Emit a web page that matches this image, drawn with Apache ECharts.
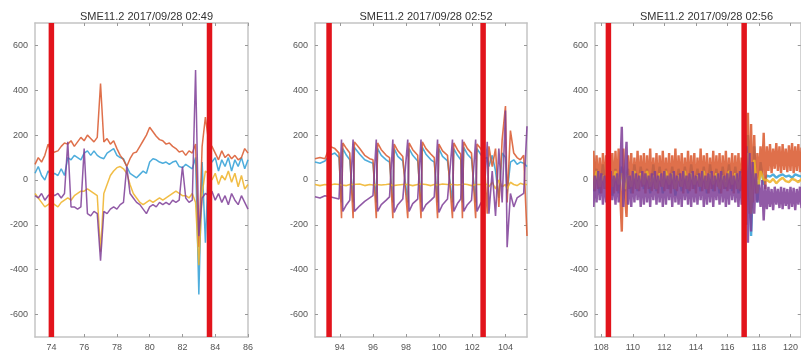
<!DOCTYPE html>
<html>
<head>
<meta charset="utf-8">
<script src="https://cdn.jsdelivr.net/npm/echarts@6.0.0/dist/echarts.min.js"></script>
<style>
    html, body { margin: 0; padding: 0; background: #fff; }
    #chart { width: 801px; height: 356px; }
</style>
</head>
<body>
<div id="chart"></div>
<script>
// titles and shared y axis
const titles = ['SME11.2 2017/09/28 02:49', 'SME11.2 2017/09/28 02:52', 'SME11.2 2017/09/28 02:56'];
const y_range = [-700, 700];
const y_ticks = [-600, -400, -200, 0, 200, 400, 600];

// panel 1 (samples every 0.2 from 73)
const x_range_1 = [73, 86];
const x_ticks_1 = [74, 76, 78, 80, 82, 84, 86];
const red_lines_1 = [74.0, 83.65];
const t_start_1 = 73, t_step_1 = 0.2;
const blue_1 = [30, 60, 20, 0, 40, 20, 30, 20, 50, 20,
    100, 90, 110, 100, 90, 120, 130, 110, 130, 110,
    100, 95, 120, 130, 140, 110, 100, 95, 60, 30,
    20, 10, 25, 40, 30, 80, 95, 90, 80, 75,
    80, 70, 80, 85, 60, 55, 70, 60, 50, 100,
    -510, 80, -280, 90, 80, 100, 40, 90, 60, 100,
    40, 90, 60, 100, 50, 90];
const orange_1 = [70, 100, 80, 110, 160, 120, 125, 130, 150, 165,
    160, 175, 150, 170, 190, 175, 200, 185, 170, 190,
    430, 170, 185, 160, 175, 140, 110, 90, 60, 95,
    120, 125, 150, 175, 200, 235, 215, 195, 180, 175,
    160, 165, 150, 140, 125, 130, 110, 130, 120, 160,
    -300, 150, 280, 170, 150, 120, 90, 130, 100, 115,
    95, 110, 90, 100, 140, 120];
const yellow_1 = [-60, -80, -100, -120, -110, -100, -110, -120, -100, -90,
    -80, -90, -70, -60, -50, -50, -40, -50, -60, -70,
    -320, -60, -20, 20, 40, 55, 60, 50, 30, -20,
    -60, -80, -100, -110, -100, -90, -100, -90, -80, -90,
    -80, -70, -60, -50, -60, -70, -70, -80, -60, -100,
    -380, -60, 40, 30, 0, 30, -20, 20, 0, 40,
    -10, 30, -30, 20, -40, -20];
const purple_1 = [-70, -80, -60, -90, -70, -60, -70, -60, -80, -60,
    170, -120, -120, -130, -120, 140, -150, -160, -140, -150,
    -360, -140, -150, -130, -120, -130, -110, -100, 60, -60,
    -80, -100, -110, -130, -150, -120, -110, -120, -100, -110,
    -100, -110, -90, -100, -90, 60, -80, -100, -90, 490,
    -250, -80, -60, -70, -50, -90, -60, -100, -70, -110,
    -60, -90, -110, -70, -100, -130];

// panel 2 (irregular sample times)
const x_range_2 = [92.5, 105.3];
const x_ticks_2 = [94, 96, 98, 100, 102, 104];
const red_lines_2 = [93.35, 102.65];
const t_2 = [92.5, 92.8, 93.1, 93.4, 93.7, 93.95,
    94.1, 94.18, 94.4, 94.6,
    94.8, 94.88, 95.2, 95.5, 95.8, 96.0,
    96.2, 96.28, 96.5, 96.8, 97.0,
    97.2, 97.28, 97.5, 97.8,
    98.1, 98.18, 98.4, 98.7,
    98.9, 98.98, 99.2, 99.5, 99.7,
    99.9, 99.98, 100.2, 100.5,
    100.8, 100.88, 101.1, 101.3,
    101.4, 101.48, 101.7, 101.95,
    102.2, 102.28, 102.5, 102.7,
    102.9, 103.0, 103.2, 103.4, 103.6, 103.8, 104.0, 104.1, 104.3, 104.5, 104.7, 104.9, 105.1, 105.3];
const blue_2 = [80, 75, 85, 110, 120, 100,
    -100, 140, 110, 90,
    -100, 145, 115, 90, 80, 75,
    -100, 140, 110, 90, 80,
    -100, 140, 105, 85,
    -100, 140, 110, 85,
    -100, 145, 115, 90, 80,
    -100, 140, 105, 85,
    -100, 140, 110, 90,
    -100, 145, 115, 95,
    -100, 140, 115, 95,
    100, 60, 110, 40, -80, 120, 100, -60, 80, 90, 70, 80, 75, 60];
const orange_2 = [95, 100, 95, 150, 140, 120,
    -170, 165, 140, 120,
    -170, 170, 140, 110, 95, 90,
    -170, 165, 135, 110, 100,
    -170, 160, 130, 105,
    -170, 165, 135, 110,
    -170, 170, 140, 115, 100,
    -170, 160, 130, 110,
    -170, 165, 135, 115,
    -170, 170, 140, 120,
    -170, 160, 140, 120,
    -150, 150, 60, 140, -120, 180, 330, -100, 220, 120, 100, 90, 110, -250];
const yellow_2 = [-20, -25, -20, -22, -18, -20,
    -22, -20, -25, -20,
    -20, -22, -18, -25, -20, -22,
    -20, -25, -22, -20, -18,
    -25, -20, -22, -20,
    -20, -22, -25, -20,
    -18, -22, -20, -25, -20,
    -22, -20, -18, -20,
    -20, -25, -22, -20,
    -22, -18, -20, -25,
    -20, -22, -20, -18,
    -20, -30, -10, -40, 0, -30, -20, -40, -10, -20, -25, -15, -20, -20];
const purple_2 = [-75, -80, -70, -75, -80, -85,
    180, -140, -110, -90,
    180, -140, -115, -95, -80, -70,
    180, -140, -110, -90, -75,
    180, -145, -110, -85,
    180, -140, -105, -85,
    180, -140, -110, -90, -75,
    180, -145, -110, -85,
    180, -140, -105, -85,
    180, -140, -110, -90,
    180, -140, -105, -85,
    170, -150, 40, -160, 140, -100, 310, -300, -60, -120, -80, -70, -60, 240];

// panel 3 (orange/purple every 0.1, blue/yellow every 0.2, both from 107.3)
const x_range_3 = [107.6, 120.65];
const x_ticks_3 = [108, 110, 112, 114, 116, 118, 120];
const red_lines_3 = [108.45, 117.06];
const t_start_3 = 107.3, t_step_fine_3 = 0.1, t_step_coarse_3 = 0.2;
const orange_3 = [120, -30, 130, -50, 110, -40, 100,
    -60, 120, -40, 110, -50, 100, -30, 120, -60, 130, -50, 140, -60,
    -230, 140, -60, -165,
    110, -40, 120, -60, 100, -40, 130, -50, 110,
    -30, 120, -60, 110, -40, 140, -50, 100, -40, 120,
    -60, 110, -30, 130, -50, 100, -40, 120, -60, 110,
    -40, 140, -50, 110, -30, 120, -60, 100, -40, 130,
    -50, 110, -40, 120, -60, 100, -30, 140, -50, 110,
    -40, 120, -60, 100, -40, 130, -50, 110, -30, 120,
    -60, 110, -40, 130, -50, 100, -40, 120, -60, 110,
    -40, 120, -50, 100,
    -80, 180, -200, 300, -150, 250, -100, 200, -60, 120, 0, 150, 20, 210, -40,
    150, 40, 160, 30, 140, 50, 165, 40, 150, 30, 160, 45, 140, 35, 155, 40, 165, 30, 150, 40, 160, 35, 145, 40, 150, 30];
const purple_3 = [-110, 30, -120, 20, -100, 40, -90,
    30, -110, 20, -100, 30, -120, 40, -90, 20, -110, 30, -100, 40,
    237, -120, 40, 170,
    -110, 20, -120, 40, -100, 30, -90, 20, -120,
    40, -110, 30, -100, 20, -120, 30, -90, 40, -110,
    20, -100, 30, -120, 40, -110, 20, -90, 30, -120,
    40, -100, 20, -110, 30, -120, 40, -90, 20, -110,
    30, -120, 40, -100, 20, -110, 30, -90, 40, -120,
    20, -110, 30, -100, 40, -120, 20, -90, 30, -110,
    40, -100, 20, -120, 30, -110, 40, -90, 20, -100,
    30, -120, 40, -110,
    60, -180, 150, -280, 120, -230, 80, -150, 30, -100, -20, -120, 0, -180, -20,
    -130, -30, -120, -40, -134, -30, -110, -40, -125, -30, -130, -35, -115, -40, -130, -30, -120, -35, -134, -40, -110, -30, -125, -40, -130, -30];
const blue_3 = [60, -50, 50, -60, 70, -40, 60, -70, 50, -60,
    60, -50, 50, -60, 70, -50, 60, -40, 50, -60,
    70, -50, 60, -60, 50, -40, 60, -70, 50, -50,
    60, -60, 70, -40, 50, -50, 60, -60, 70, -50,
    50, -60, 60, -40, 70, -50, 60, -60, 50,
    -150, 200, -250, 150, -100, 80, -20,
    20, 15, 25, 10, 20, 25, 15, 20, 10, 25, 20, 15, 20, 25];
const yellow_3 = [30, -40, 40, -30, 20, -40, 30, -30, 40, -20,
    30, -40, 20, -30, 40, -40, 30, -20, 40, -30,
    20, -40, 30, -30, 40, -20, 30, -40, 20, -30,
    40, -40, 30, -20, 20, -30, 40, -40, 30, -20,
    30, -40, 20, -30, 40, -20, 30, -40, 30,
    -100, 120, -150, 90, -60, 40, 0,
    0, -10, 5, -15, 0, 10, -5, -10, 5, 0, -10, 5, -5, 0];

const colors = {blue: '#2f9fd6', orange: '#d9572c', yellow: '#eeb226', purple: '#7e3d97', red: '#e2141c'};

let make_times = function (start, step, n) {
    let times = [];
    for (let i = 0; i < n; i++) {
        times.push(+(start + i * step).toFixed(3));
    }
    return times;
};

let zip = function (xs, ys) {
    return ys.map(function (y, i) {
        return [xs[i], y];
    });
};

// plot boxes
const grids = [
    {left: 35, top: 23, width: 213, height: 314},
    {left: 315, top: 23, width: 212, height: 314},
    {left: 595, top: 23, width: 213, height: 314}
];

let make_x_axis = function (grid_index, range, ticks, position) {
    let bottom = position === 'bottom';
    return {
        type: 'value', gridIndex: grid_index, position: position,
        min: range[0], max: range[1],
        axisLine: {show: true, onZero: false, lineStyle: {color: '#c4c4c4', width: 1.5}},
        axisTick: {show: true, inside: true, length: 3, customValues: ticks, lineStyle: {color: '#999'}},
        axisLabel: {show: bottom, customValues: ticks, fontSize: 9, color: '#555', margin: 6, fontFamily: 'Liberation Sans'},
        splitLine: {show: false}
    };
};

let make_y_axis = function (grid_index, position) {
    let left = position === 'left';
    return {
        type: 'value', gridIndex: grid_index, position: position,
        min: y_range[0], max: y_range[1],
        axisLine: {show: true, onZero: false, lineStyle: {color: '#c4c4c4', width: 1.5}},
        axisTick: {show: true, inside: true, length: 3, customValues: y_ticks, lineStyle: {color: '#999'}},
        axisLabel: {show: left, customValues: y_ticks, fontSize: 9, color: '#555', margin: 7, fontFamily: 'Liberation Sans'},
        splitLine: {show: false}
    };
};

let line_series = function (panel, data, color, width) {
    return {
        type: 'line', xAxisIndex: panel * 2, yAxisIndex: panel * 2,
        data: data, showSymbol: false, symbol: 'none', animation: false,
        lineStyle: {color: color, width: width, opacity: 0.85},
        itemStyle: {color: color}, silent: true, clip: true
    };
};

let red_series = function (panel, x) {
    return {
        type: 'line', xAxisIndex: panel * 2, yAxisIndex: panel * 2, z: 10,
        data: [[x, y_range[0]], [x, y_range[1]]], showSymbol: false, symbol: 'none', animation: false,
        lineStyle: {color: colors.red, width: 5.5}, silent: true
    };
};

let t_1 = make_times(t_start_1, t_step_1, blue_1.length);
let t_fine_3 = make_times(t_start_3, t_step_fine_3, orange_3.length);
let t_coarse_3 = make_times(t_start_3, t_step_coarse_3, blue_3.length);

let panels = [
    {x_range: x_range_1, x_ticks: x_ticks_1, red: red_lines_1, width: 1.5,
        lines: [[zip(t_1, blue_1), colors.blue], [zip(t_1, orange_1), colors.orange],
            [zip(t_1, yellow_1), colors.yellow], [zip(t_1, purple_1), colors.purple]]},
    {x_range: x_range_2, x_ticks: x_ticks_2, red: red_lines_2, width: 1.6,
        lines: [[zip(t_2, blue_2), colors.blue], [zip(t_2, orange_2), colors.orange],
            [zip(t_2, yellow_2), colors.yellow], [zip(t_2, purple_2), colors.purple]]},
    {x_range: x_range_3, x_ticks: x_ticks_3, red: red_lines_3, width: 2.4,
        lines: [[zip(t_coarse_3, blue_3), colors.blue], [zip(t_fine_3, orange_3), colors.orange],
            [zip(t_coarse_3, yellow_3), colors.yellow], [zip(t_fine_3, purple_3), colors.purple]]}
];

let x_axes = [], y_axes = [], series = [], title = [];
panels.forEach(function (p, i) {
    x_axes.push(make_x_axis(i, p.x_range, p.x_ticks, 'bottom'));
    x_axes.push(make_x_axis(i, p.x_range, p.x_ticks, 'top'));
    y_axes.push(make_y_axis(i, 'left'));
    y_axes.push(make_y_axis(i, 'right'));
    p.lines.forEach(function (l) {
        series.push(line_series(i, l[0], l[1], p.width));
    });
    p.red.forEach(function (x) {
        series.push(red_series(i, x));
    });
    title.push({
        text: titles[i], left: grids[i].left + grids[i].width / 2, top: 6, textAlign: 'center',
        textStyle: {fontSize: 11, fontWeight: 'normal', color: '#333', fontFamily: 'Liberation Sans'}
    });
});

let chart = echarts.init(document.getElementById('chart'), null, {renderer: 'canvas'});
chart.setOption({
    backgroundColor: '#fff',
    animation: false,
    title: title,
    grid: grids,
    xAxis: x_axes,
    yAxis: y_axes,
    series: series
});
</script>
</body>
</html>
